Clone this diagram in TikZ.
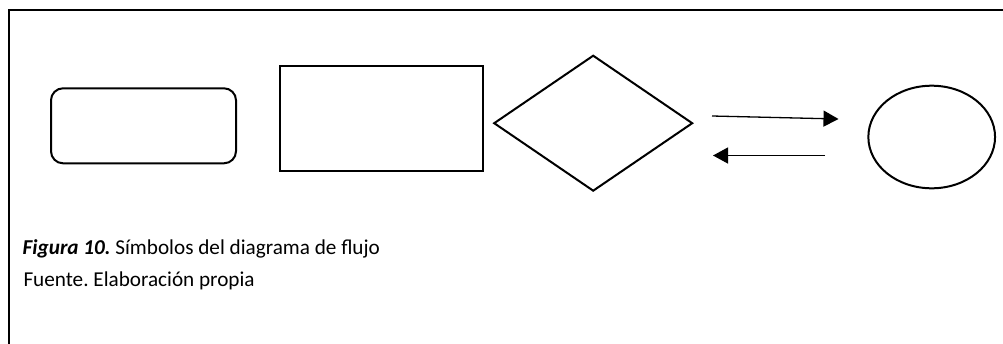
\documentclass[tikz,border=0pt]{standalone}
\usepackage{fontspec}
\setmainfont{Carlito}
\usetikzlibrary{shapes.geometric,arrows.meta}
\frenchspacing
\begin{document}
\begin{tikzpicture}[x=1pt,y=-1pt,
  sym/.style={draw=black,line width=2pt,inner sep=0pt,outer sep=0pt},
  flow/.style={draw=black,line width=1.3pt,-{Triangle[length=15pt,width=16pt]}},
  caption/.style={anchor=base west,inner sep=0pt,font=\fontsize{21.2}{26}\selectfont}]
\useasboundingbox (0,0) rectangle (1003,343);
\draw[line width=2pt] (1010,10) -- (9,10) -- (9,350);
\node[sym,rectangle,rounded corners=12pt,minimum width=185pt,minimum height=75pt] (term) at (143.5,125.8) {};
\node[sym,rectangle,minimum width=203pt,minimum height=105pt] (proc) at (381.3,118.2) {};
\node[sym,diamond,minimum width=198pt,minimum height=135pt] (dec) at (593.2,123.2) {};
\node[sym,ellipse,minimum width=126.7pt,minimum height=102.6pt] (conn) at (931.7,137) {};
\coordinate (a1s) at (712,116);
\coordinate (a1e) at (838.5,119);
\coordinate (a2s) at (825,155.5);
\coordinate (a2e) at (713,155.5);
\draw[flow] (a1s) -- (a1e);
\draw[flow] (a2s) -- (a2e);
\node[caption] (cap1) at (22.5,254.5) {\textbf{\textit{Figura 10.}} Símbolos del diagrama de flujo};
\node[caption] (cap2) at (23.3,286) {Fuente. Elaboración propia};
\end{tikzpicture}
\end{document}
